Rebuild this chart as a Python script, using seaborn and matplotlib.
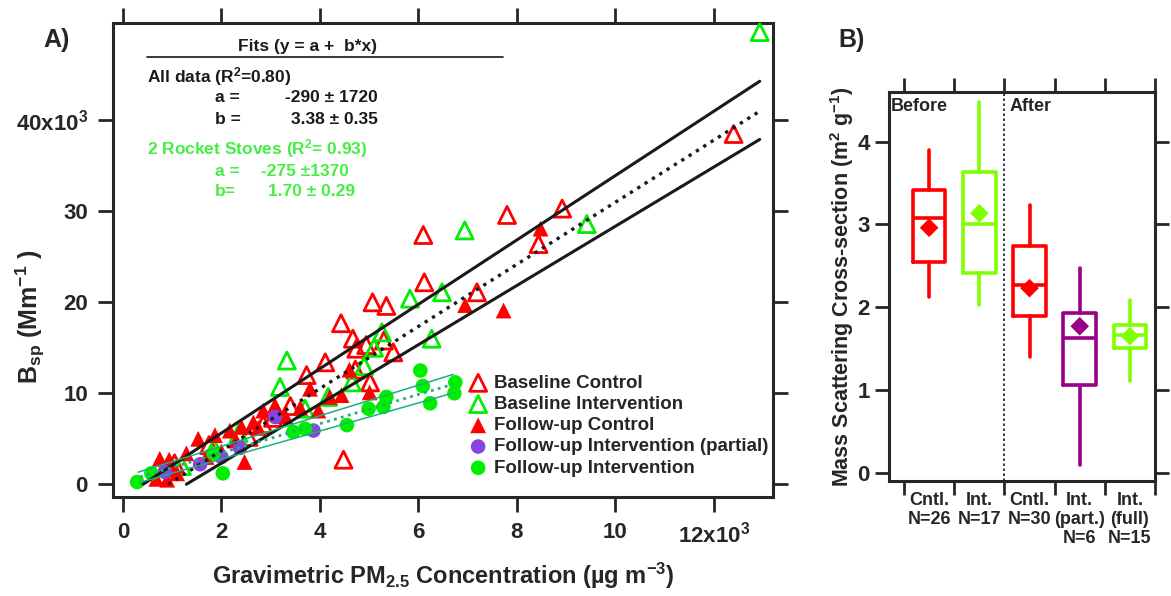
import numpy as np
import seaborn as sns
import matplotlib.pyplot as plt
from matplotlib.lines import Line2D

# ---- panel A: B_sp vs gravimetric PM2.5 (x in 10^3 ug m-3, y in 10^3 Mm-1)
bc_x = [12.4, 8.92, 7.80, 6.10, 8.44, 6.12, 7.19, 5.07, 5.35, 4.43, 4.67, 4.74, 4.94,
        5.49, 4.11, 3.73, 5.02, 4.48, 4.72, 3.05, 2.55, 1.05, 1.75, 3.40, 2.85, 5.30]
bc_y = [38.5, 30.3, 29.6, 27.4, 26.4, 22.2, 21.1, 20.0, 19.6, 17.7, 16.0, 14.9, 15.3,
        14.5, 13.4, 12.0, 11.2, 2.7, 12.6, 7.3, 5.2, 2.3, 4.3, 8.6, 6.6, 15.8]
bi_x = [12.93, 9.42, 6.94, 5.83, 6.48, 6.27, 5.26, 3.33, 4.65, 4.17, 3.19, 5.10,
        2.35, 1.85, 3.70, 4.90, 1.20]
bi_y = [49.7, 28.6, 27.9, 20.4, 21.1, 16.0, 16.7, 13.6, 11.2, 9.6, 10.7, 15.0,
        5.6, 4.0, 8.3, 13.0, 2.0]
fc_x = [8.48, 7.73, 6.95, 4.44, 5.01, 3.97, 2.85, 3.09, 2.47, 1.53, 1.87, 2.17, 2.41,
        0.75, 0.94, 1.29, 0.68, 1.05, 1.70, 2.00, 2.65, 3.30, 3.60, 4.20, 4.60, 2.30,
        1.10, 3.80, 2.75, 0.90]
fc_y = [28.1, 19.1, 19.7, 9.8, 10.1, 8.1, 8.1, 8.7, 2.45, 5.0, 5.4, 5.9, 6.3,
        2.8, 2.7, 3.4, 0.6, 1.6, 3.0, 3.6, 6.8, 7.5, 8.4, 9.6, 12.6, 4.8,
        1.2, 10.5, 6.2, 0.5]
fp_x = [0.85, 1.57, 2.38, 3.09, 3.87, 2.00]
fp_y = [1.35, 2.2, 4.0, 7.4, 5.9, 3.0]
ff_x = [0.29, 0.58, 2.03, 1.84, 3.46, 3.70, 4.55, 4.99, 5.29, 5.35, 6.04, 6.09, 6.24, 6.75, 6.73]
ff_y = [0.25, 1.2, 1.2, 3.4, 5.75, 6.1, 6.5, 8.3, 8.5, 9.6, 12.5, 10.8, 8.9, 11.2, 10.0]

# fitted lines as drawn (intercept, slope, x start, x end)
all_fit = (-3.14, 3.414, 0.92, 12.93)
all_hi = (-1.45, 3.538, 0.41, 12.93)
all_lo = (-4.20, 3.256, 1.29, 12.93)
rs_fit = (0.24, 1.604, 0.35, 6.71)
rs_hi = (0.81, 1.680, 0.31, 6.71)
rs_lo = (-0.33, 1.545, 0.31, 6.75)

x_ticks = [0, 2, 4, 6, 8, 10, 12]
x_ticklabels = ["0", "2", "4", "6", "8", "10", "12x10$^3$"]
y_ticks = [0, 10, 20, 30, 40]
y_ticklabels = ["0", "10", "20", "30", "40x10$^3$"]

# ---- panel B: mass scattering cross-section box summaries
b_labels = ["Cntl.\nN=26", "Int.\nN=17", "Cntl.\nN=30", "Int.\n(part.)\nN=6", "Int.\n(full)\nN=15"]
b_q1 = [2.55, 2.41, 1.89, 1.056, 1.51]
b_med = [3.075, 3.01, 2.265, 1.63, 1.66]
b_q3 = [3.42, 3.63, 2.74, 1.935, 1.78]
b_lo = [2.12, 2.03, 1.40, 0.097, 1.11]
b_hi = [3.90, 4.48, 3.24, 2.47, 2.09]
b_mean = [2.96, 3.135, 2.23, 1.77, 1.65]
b_colors = ["#ff0000", "#80ff00", "#ff0000", "#990088", "#80ff00"]

sns.set_theme(style="ticks")
plt.rcParams['font.family'] = ['Liberation Sans', 'DejaVu Sans']
plt.rcParams['font.weight'] = 'bold'
plt.rcParams['axes.labelweight'] = 'bold'
plt.rcParams['mathtext.fontset'] = 'custom'
plt.rcParams['mathtext.rm'] = 'Liberation Sans:bold'
plt.rcParams['mathtext.it'] = 'Liberation Sans:bold'
plt.rcParams['mathtext.bf'] = 'Liberation Sans:bold'
plt.rcParams['mathtext.default'] = 'rm'

W, H = 1171, 596
fig = plt.figure(figsize=(W / 100, H / 100), dpi=100)
axA = fig.add_axes([113 / W, 1 - 497 / H, 660 / W, 474 / H])
axB = fig.add_axes([889 / W, 1 - 481 / H, 266 / W, 389 / H])

RED, GRN, PUR = "#ff0000", "#00ee00", "#8844dd"
sns.scatterplot(x=bc_x, y=bc_y, marker="^", s=150, color=RED, facecolor="none",
                edgecolor=RED, linewidth=2, label="Baseline Control", ax=axA, zorder=3)
sns.scatterplot(x=bi_x, y=bi_y, marker="^", s=150, color=GRN, facecolor="none",
                edgecolor=GRN, linewidth=2, label="Baseline Intervention", ax=axA, zorder=3)
sns.scatterplot(x=fc_x, y=fc_y, marker="^", s=130, color=RED, edgecolor="none",
                label="Follow-up Control", ax=axA, zorder=3)
sns.scatterplot(x=fp_x, y=fp_y, marker="o", s=110, color=PUR, edgecolor="none",
                label="Follow-up Intervention (partial)", ax=axA, zorder=3)
sns.scatterplot(x=ff_x, y=ff_y, marker="o", s=110, color=GRN, edgecolor="none",
                label="Follow-up Intervention", ax=axA, zorder=3)


def draw_fit(ax, fit, **kw):
    a, b, x0, x1 = fit
    xs = np.array([x0, x1])
    ax.plot(xs, a + b * xs, zorder=4, **kw)


TEAL = "#1aaf80"
draw_fit(axA, all_hi, color="k", lw=2.2)
draw_fit(axA, all_lo, color="k", lw=2.2)
draw_fit(axA, all_fit, color="k", lw=2.4, ls=(0, (1, 1.6)))
draw_fit(axA, rs_hi, color=TEAL, lw=1.1)
draw_fit(axA, rs_lo, color=TEAL, lw=1.1)
draw_fit(axA, rs_fit, color=TEAL, lw=2, ls=(0, (1, 1.6)))

axA.set_xlim(-0.2, 13.2)
axA.set_ylim(-1.4, 50.7)
axA.set_xticks(x_ticks)
axA.set_xticklabels(x_ticklabels)
axA.set_yticks(y_ticks)
axA.set_yticklabels(y_ticklabels)
axA.tick_params(direction="out", length=11, width=2, top=True, right=True,
                labelsize=16, pad=7)
for sp in axA.spines.values():
    sp.set_linewidth(2.2)
axA.set_xlabel("Gravimetric PM$_{2.5}$ Concentration (µg m$^{-3}$)", fontsize=17, labelpad=9)
axA.set_ylabel("B$_{sp}$ (Mm$^{-1}$ )", fontsize=18)
axA.yaxis.set_label_coords(-0.1, 0.38)

leg = axA.legend(loc="upper left", bbox_to_anchor=(0.522, 0.278), frameon=False,
                 fontsize=13.5, handletextpad=0.25, labelspacing=0.22, borderpad=0,
                 handlelength=1.2)

# fit summary text
def ftext(px, py, s, color="k", ha="left"):
    fig.text(px / W, 1 - py / H, s, color=color, ha=ha, va="center", fontsize=12.5)


LG = "#44ee44"
ftext(307, 47, "Fits (y = a +  b*x)", ha="center")
fig.add_artist(Line2D([147 / W, 503 / W], [1 - 57 / H] * 2, color="k", lw=1.2))
ftext(147, 77, "All data (R$^2$=0.80)")
ftext(215, 98, "a =")
ftext(378, 98, "-290 ± 1720", ha="right")
ftext(215, 119, "b =")
ftext(378, 119, "3.38 ± 0.35", ha="right")
ftext(147, 149, "2 Rocket Stoves (R$^2$= 0.93)", color=LG)
ftext(215, 171, "a =", color=LG)
ftext(261, 171, "-275 ±1370", color=LG)
ftext(215, 191, "b=", color=LG)
ftext(268, 191, "1.70 ± 0.29", color=LG)

fig.text(57 / W, 1 - 40 / H, "A)", fontsize=18, ha="center", va="center")
fig.text(852 / W, 1 - 40 / H, "B)", fontsize=18, ha="center", va="center")

# ---- panel B
pos = list(range(len(b_labels)))
stats = [dict(q1=q1, med=m, q3=q3, whislo=lo, whishi=hi, fliers=[])
         for q1, m, q3, lo, hi in zip(b_q1, b_med, b_q3, b_lo, b_hi)]
art = axB.bxp(stats, positions=pos, widths=0.65, showcaps=False, showfliers=False,
              patch_artist=False)
for i, c in enumerate(b_colors):
    art["boxes"][i].set(color=c, linewidth=2.6)
    art["medians"][i].set(color=c, linewidth=2.6)
    for w in art["whiskers"][2 * i:2 * i + 2]:
        w.set(color=c, linewidth=2.6)
sns.scatterplot(x=pos, y=b_mean, hue=pos, palette=b_colors, marker="D", s=90,
                edgecolor="none", legend=False, ax=axB, zorder=3)

axB.axvline(1.5, color="k", lw=1.2, ls=(0, (1.5, 1.5)))
axB.text(-0.76, 4.43, "Before", fontsize=13, va="center", ha="left")
axB.text(1.6, 4.43, "After", fontsize=13, va="center", ha="left")

axB.set_xlim(-0.8, 4.5)
axB.set_ylim(-0.1, 4.6)
axB.set_xticks(pos)
axB.set_xticklabels(b_labels, fontsize=13, linespacing=1.15)
axB.set_xticks([p - 0.5 for p in pos] + [4.5], minor=True)
axB.tick_params(axis="x", which="major", length=0, pad=8)
axB.tick_params(axis="x", which="minor", direction="out", length=10, width=2,
                top=True, bottom=True)
axB.set_yticks([0, 1, 2, 3, 4])
axB.tick_params(axis="y", direction="out", length=10, width=2, right=True,
                labelsize=16, pad=4)
for sp in axB.spines.values():
    sp.set_linewidth(2.2)
axB.set_xlabel("")
axB.set_ylabel("Mass Scattering Cross-section (m$^2$ g$^{-1}$)", fontsize=15.5, labelpad=1)

plt.savefig("out.png", dpi=100)
